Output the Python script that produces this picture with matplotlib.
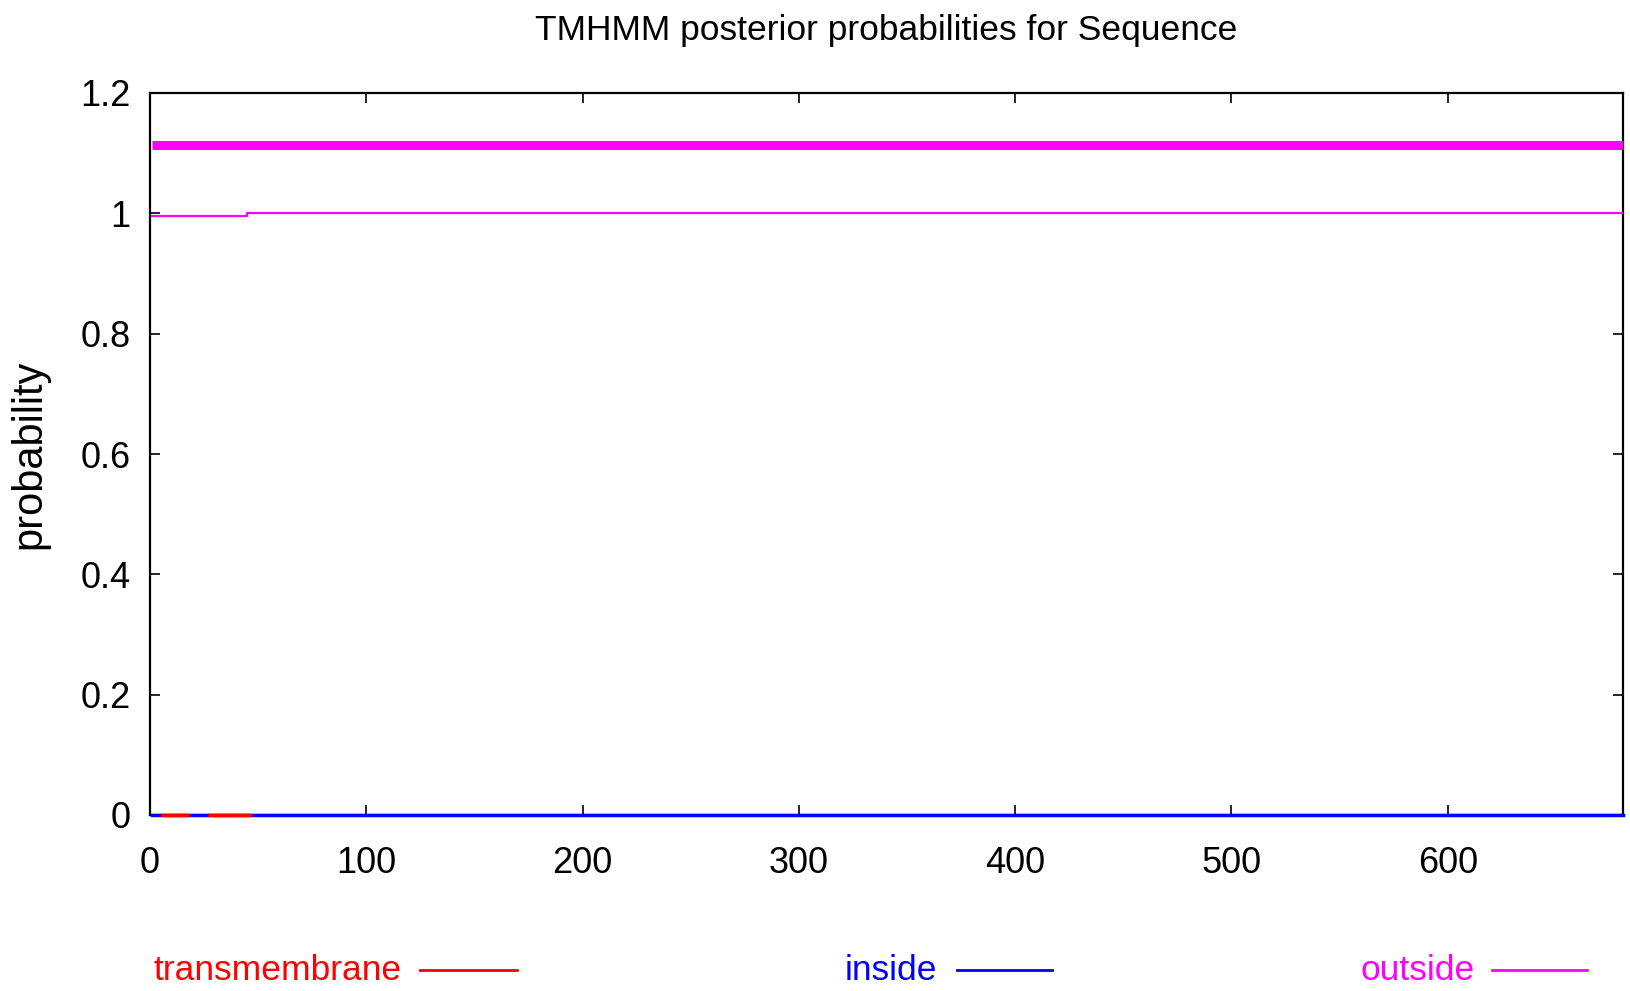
import matplotlib
matplotlib.use("Agg")
import matplotlib.pyplot as plt
from matplotlib.lines import Line2D

# Data
seq_len = 681
outside_x = [1, 45, 45, 681]
outside_p = [0.995, 0.995, 1.0, 1.0]
inside_x = [1, 681]
inside_p = [0.0, 0.0]
tm_segments = [(5, 18), (27, 47)]
tm_p = [0.0, 0.0]
topology_x = [1, 681]
topology_y = [1.113, 1.113]
xticks = [0, 100, 200, 300, 400, 500, 600]
yticks = [0, 0.2, 0.4, 0.6, 0.8, 1.0, 1.2]
ytick_labels = ["0", "0.2", "0.4", "0.6", "0.8", "1", "1.2"]

plt.rcParams['font.family'] = ['Liberation Sans', 'DejaVu Sans']

W, H = 1630, 991
fig = plt.figure(figsize=(W / 100, H / 100), dpi=100)
left, right, top, bottom = 150, 1623, 93, 815
ax = fig.add_axes([left / W, 1 - bottom / H, (right - left) / W, (bottom - top) / H])

ax.plot(topology_x, topology_y, color='#ff00ff', lw=6.5, solid_capstyle='butt', clip_on=False, zorder=3)
ax.plot(outside_x, outside_p, color='#ff00ff', lw=1.6, zorder=3)
ax.plot(inside_x, inside_p, color='#0000ff', lw=2.5, clip_on=False, zorder=4)
for (s, e), p in zip(tm_segments, tm_p):
    ax.plot([s, e], [p, p], color='#ff0000', lw=2.5, clip_on=False, zorder=5, solid_capstyle='butt')

ax.set_xlim(0, seq_len)
ax.set_ylim(0, 1.2)
ax.set_xticks(xticks)
ax.set_yticks(yticks)
ax.set_yticklabels(ytick_labels)
ax.tick_params(direction='in', length=7, width=1.2, top=True, right=True, labelsize=26)
ax.tick_params(axis='x', pad=22)
ax.tick_params(axis='y', pad=14)
for sp in ax.spines.values():
    sp.set_linewidth(1.6)

ax.set_ylabel('probability', fontsize=30, labelpad=22)
ax.set_title('TMHMM posterior probabilities for Sequence', fontsize=25.5, pad=38)

# Legend along the bottom
legend_items = [("transmembrane", '#ff0000', 153, 420, 517),
                ("inside", '#0000ff', 845, 957, 1052),
                ("outside", '#ff00ff', 1360, 1492, 1587)]
ly = 1 - 970 / H
for label, col, tx, x0, x1 in legend_items:
    fig.text(tx / W, ly, label, color=col, fontsize=25.5, va='center', ha='left')
    fig.add_artist(Line2D([x0 / W, x1 / W], [ly, ly], color=col, lw=2, transform=fig.transFigure))

fig.savefig('out.png', dpi=100)
